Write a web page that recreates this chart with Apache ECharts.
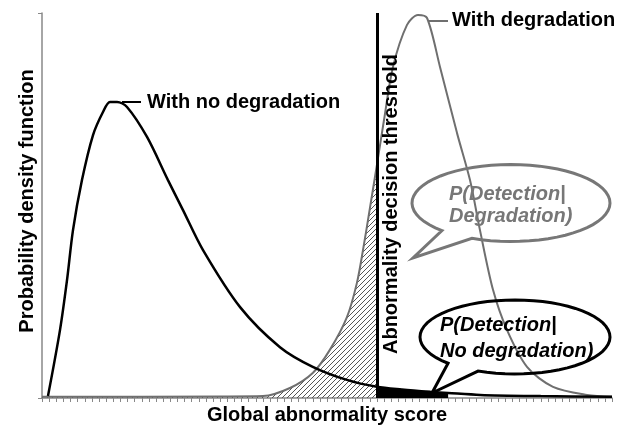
<!DOCTYPE html>
<html>
<head>
<meta charset="utf-8">
<script src="https://cdn.jsdelivr.net/npm/echarts@6/dist/echarts.min.js"></script>
<style>
  html, body { margin: 0; padding: 0; background: #fff; }
  #chart { width: 626px; height: 428px; }
</style>
</head>
<body>
<div id="chart"></div>
<script>
// axis ranges (score units / density units, arbitrary)
const xMax = 80;
const yMax = 100;
const threshold = 47;

// "With no degradation" curve
const noDegX = [0.84, 2.53, 3.51, 4.35, 5.61, 7.16, 8.56, 9.54, 10.53, 11.93, 14.74, 17.68, 19.79, 22.6, 27.8, 33.4, 38.0, 42.8, 47, 50.5, 54.5, 57, 61.5, 70, 80];
const noDegY = [0.5, 17.7, 30.6, 43.6, 56.6, 68.3, 74.3, 76.9, 76.9, 75.6, 67.8, 56.6, 48.8, 38.4, 23.6, 13.2, 8.1, 4.7, 2.9, 2.2, 1.6, 1.3, 0.8, 0.5, 0.3];

// "With degradation" curve
const degX = [0, 25, 31.0, 34.8, 38.0, 40.4, 42.8, 44.2, 45.05, 46.04, 47, 48.0, 49.26, 51.23, 52.77, 54.04, 55.86, 58.25, 60.07, 61.47, 63.3, 65.26, 68.07, 71.72, 76.5, 80];
const degY = [0.3, 0.4, 0.5, 2.6, 6.5, 12.5, 21.0, 29.9, 38.4, 49.5, 60.5, 72.2, 86.0, 96.9, 99.5, 98.7, 86.0, 68.8, 56.6, 43.6, 28.1, 17.7, 8.1, 2.9, 0.8, 0.3];

const noDeg = noDegX.map((x, i) => [x, noDegY[i]]);
const deg = degX.map((x, i) => [x, degY[i]]);
// missed detections (hatched) and false alarms (black)
const hatchPart = deg.filter(p => p[0] <= threshold);
const falseAlarm = noDeg.filter(p => p[0] >= threshold && p[0] <= 57);

// hatch pattern
const tile = document.createElement('canvas');
tile.width = 5;
tile.height = 5;
const tc = tile.getContext('2d');
tc.strokeStyle = '#555';
tc.lineWidth = 1;
tc.beginPath();
tc.moveTo(0, 5); tc.lineTo(5, 0);
tc.moveTo(-1, 1); tc.lineTo(1, -1);
tc.moveTo(4, 6); tc.lineTo(6, 4);
tc.stroke();

// speech bubble outline: ellipse with a tail
function bubble(cx, cy, rx, ry, a1, a2, tip) {
    const pts = [];
    const start = a1 * Math.PI / 180;
    const end = (a2 + 360) * Math.PI / 180;
    const n = 60;
    for (let i = 0; i <= n; i++) {
        const t = start + (end - start) * i / n;
        pts.push([cx + rx * Math.cos(t), cy + ry * Math.sin(t)]);
    }
    pts.push(tip);
    return pts;
}

const font = "'Liberation Sans', Arial, sans-serif";

function label(text, x, y, opts) {
    opts = opts || {};
    return {
        type: 'text',
        x: x, y: y,
        rotation: opts.rotation || 0,
        z: 100,
        style: {
            text: text,
            x: 0, y: 0,
            fill: opts.color || '#000',
            fontSize: 20,
            fontWeight: 'bold',
            fontStyle: opts.italic ? 'italic' : 'normal',
            fontFamily: font,
            textAlign: opts.align || 'left',
            textVerticalAlign: 'middle'
        }
    };
}

const option = {
    backgroundColor: '#fff',
    animation: false,
    grid: { left: 42, right: 14, top: 13, bottom: 30 },
    xAxis: {
        type: 'value',
        min: 0, max: xMax, interval: 1,
        axisLine: { lineStyle: { color: '#888', width: 1.5 } },
        axisTick: { show: true, length: 4, lineStyle: { color: '#888' } },
        axisLabel: { show: false },
        splitLine: { show: false }
    },
    yAxis: {
        type: 'value',
        min: 0, max: yMax, interval: yMax,
        axisLine: { show: true, lineStyle: { color: '#888', width: 1.5 } },
        axisTick: { show: true, length: 4, lineStyle: { color: '#888' } },
        axisLabel: { show: false },
        splitLine: { show: false }
    },
    series: [
        {
            type: 'line',
            data: hatchPart,
            smooth: 0.3,
            symbol: 'none',
            lineStyle: { width: 0 },
            areaStyle: { color: { image: tile, repeat: 'repeat' }, opacity: 1 },
            z: 1
        },
        {
            type: 'line',
            data: falseAlarm,
            smooth: 0.3,
            symbol: 'none',
            lineStyle: { width: 0 },
            areaStyle: { color: '#000', opacity: 1 },
            z: 2
        },
        {
            type: 'line',
            data: deg,
            smooth: 0.3,
            symbol: 'none',
            lineStyle: { color: '#6f6f6f', width: 2 },
            z: 3
        },
        {
            type: 'line',
            data: noDeg,
            smooth: 0.3,
            symbol: 'none',
            lineStyle: { color: '#000', width: 2.5 },
            z: 4,
            markLine: {
                silent: true,
                symbol: 'none',
                label: { show: false },
                lineStyle: { color: '#000', width: 3, type: 'solid' },
                data: [{ xAxis: threshold }]
            }
        }
    ],
    graphic: [
        {
            type: 'polygon', z: 90,
            shape: { points: bubble(511, 203, 99, 38.5, 134.2, 113.2, [413, 258]) },
            style: { fill: 'none', stroke: '#777', lineWidth: 3 }
        },
        {
            type: 'polygon', z: 90,
            shape: { points: bubble(515, 337, 95, 37, 134.8, 112.9, [432, 393]) },
            style: { fill: 'none', stroke: '#000', lineWidth: 3 }
        },
        { type: 'line', z: 90, shape: { x1: 122, y1: 102, x2: 141, y2: 102 }, style: { stroke: '#000', lineWidth: 2 } },
        { type: 'line', z: 90, shape: { x1: 428, y1: 21, x2: 448, y2: 21 }, style: { stroke: '#6f6f6f', lineWidth: 2 } },
        label('With no degradation', 147, 102),
        label('With degradation', 452, 20),
        label('Global abnormality score', 327, 415, { align: 'center' }),
        label('Probability density function', 27, 201, { align: 'center', rotation: Math.PI / 2 }),
        label('Abnormality decision threshold', 391, 204, { align: 'center', rotation: Math.PI / 2 }),
        label('P(Detection|', 449, 194, { italic: true, color: '#777' }),
        label('Degradation)', 449, 216, { italic: true, color: '#777' }),
        label('P(Detection|', 440, 325, { italic: true }),
        label('No degradation)', 440, 351, { italic: true })
    ]
};

const chart = echarts.init(document.getElementById('chart'));
chart.setOption(option);
</script>
</body>
</html>
